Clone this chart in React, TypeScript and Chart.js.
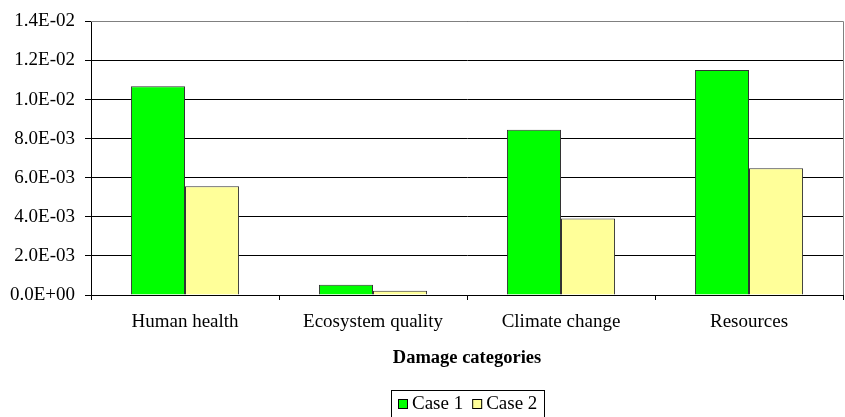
import { useEffect, useRef } from "react";
import { Chart, registerables } from "chart.js";

Chart.register(...registerables);

const categories = ["Human health", "Ecosystem quality", "Climate change", "Resources"];
const seriesNames = ["Case 1", "Case 2"];
const case1 = [0.01068, 0.00052, 0.00846, 0.01151];
const case2 = [0.00556, 0.00022, 0.00392, 0.00649];
const seriesColors = ["#00FF00", "#FFFF99"];
const yMax = 0.014;
const yStep = 0.002;
const axisTitle = "Damage categories";

const FONT = '"Liberation Serif", "Times New Roman", serif';
const FONT_SIZE = 19;

// 0.0014 -> "1.4E-03"
function sci(v: number): string {
  const [m, e] = v.toExponential(1).split("e");
  const n = parseInt(e, 10);
  return `${m}E${n < 0 ? "-" : "+"}${String(Math.abs(n)).padStart(2, "0")}`;
}

// Gray frame on the top/right of the plot and a boxed legend under the axis title
const frameAndLegend = {
  id: "frameAndLegend",
  afterDatasetsDraw(chart: any) {
    const { ctx, chartArea: a } = chart;
    ctx.save();
    ctx.strokeStyle = "#808080";
    ctx.lineWidth = 1;
    ctx.beginPath();
    ctx.moveTo(a.left, Math.round(a.top) + 0.5);
    ctx.lineTo(Math.round(a.right) + 0.5, Math.round(a.top) + 0.5);
    ctx.lineTo(Math.round(a.right) + 0.5, a.bottom);
    ctx.stroke();
    ctx.restore();
  },
  afterDraw(chart: any) {
    const { ctx, chartArea: a } = chart;
    ctx.save();
    ctx.font = `${FONT_SIZE}px ${FONT}`;
    const sw = 10;
    const gap = 4;
    const itemGap = 9;
    const padX = 7;
    const items = chart.data.datasets.map((d: any) => ({
      label: d.label as string,
      color: d.backgroundColor as string,
      w: ctx.measureText(d.label).width,
    }));
    const contentW = items.reduce(
      (s: number, it: any, i: number) => s + sw + gap + it.w + (i ? itemGap : 0),
      0
    );
    const boxW = Math.round(contentW + padX * 2);
    const cx = (a.left + a.right) / 2;
    const top = chart.height - 27;
    const left = Math.round(cx - boxW / 2);
    ctx.strokeStyle = "#000";
    ctx.lineWidth = 1;
    ctx.strokeRect(left + 0.5, top + 0.5, boxW, 40);
    let x = left + padX;
    const baseY = top + 19;
    ctx.textBaseline = "alphabetic";
    ctx.textAlign = "left";
    for (const it of items) {
      ctx.fillStyle = it.color;
      ctx.fillRect(x, baseY - 10, sw, sw);
      ctx.strokeStyle = "#000";
      ctx.strokeRect(x + 0.5, baseY - 10 + 0.5, sw - 1, sw - 1);
      x += sw + gap;
      ctx.fillStyle = "#000";
      ctx.fillText(it.label, x, baseY);
      x += it.w + itemGap;
    }
    ctx.restore();
  },
};

export default function App() {
  const ref = useRef<HTMLCanvasElement | null>(null);

  useEffect(() => {
    document.body.style.margin = "0";
    const canvas = ref.current;
    if (!canvas) return;
    const chart = new Chart(canvas, {
      type: "bar",
      data: {
        labels: categories,
        datasets: [
          {
            label: seriesNames[0],
            data: case1,
            backgroundColor: seriesColors[0],
            borderColor: "#333333",
            borderWidth: 1,
          },
          {
            label: seriesNames[1],
            data: case2,
            backgroundColor: seriesColors[1],
            borderColor: "#333333",
            borderWidth: 1,
          },
        ],
      },
      options: {
        responsive: false,
        animation: false,
        devicePixelRatio: 1,
        datasets: {
          bar: { categoryPercentage: 0.575, barPercentage: 1 },
        },
        layout: { padding: { left: 0, right: 2, top: 19, bottom: 47 } },
        plugins: {
          legend: { display: false },
          tooltip: { enabled: false },
        },
        scales: {
          x: {
            offset: true,
            grid: {
              offset: true,
              drawOnChartArea: false,
              drawTicks: true,
              tickLength: 5,
              color: "#000",
            },
            border: { display: true, color: "#000", width: 1 },
            ticks: {
              color: "#000",
              font: { family: FONT, size: FONT_SIZE },
              padding: 11,
              maxRotation: 0,
              autoSkip: false,
            },
            title: {
              display: true,
              text: axisTitle,
              color: "#000",
              font: { family: FONT, size: FONT_SIZE - 0.5, weight: "bold" },
              padding: { top: 0, bottom: 1 },
            },
            afterFit(scale: any) {
              scale.height = 75;
            },
          },
          y: {
            min: 0,
            max: yMax,
            grid: {
              color: "#000",
              tickLength: 6,
              drawTicks: true,
            },
            border: { display: true, color: "#000", width: 1 },
            ticks: {
              stepSize: yStep,
              color: "#000",
              font: { family: FONT, size: FONT_SIZE },
              padding: 10,
              callback: (v: any) => sci(Number(v)),
            },
            afterFit(scale: any) {
              scale.width = 91;
            },
          },
        },
      },
      plugins: [frameAndLegend],
    });
    return () => chart.destroy();
  }, []);

  return (
    <div style={{ width: 845, height: 417 }}>
      <canvas ref={ref} width={845} height={417} />
    </div>
  );
}
